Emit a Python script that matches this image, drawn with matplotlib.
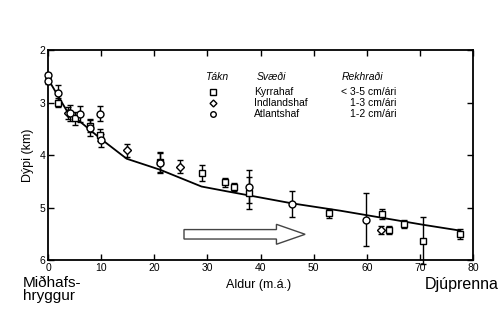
import matplotlib
matplotlib.use("Agg")
import matplotlib.pyplot as plt
from matplotlib.patches import FancyArrow

plt.rcParams['font.family'] = ['Liberation Sans', 'DejaVu Sans']

# Kyrrahaf (squares)
pac_age = [1.9, 5.1, 7.9, 9.8, 21.0, 28.9, 33.3, 35.0, 37.9, 52.9, 62.8, 64.1, 67.0, 70.6, 77.6]
pac_depth = [3.00, 3.30, 3.44, 3.62, 4.13, 4.34, 4.52, 4.61, 4.72, 5.11, 5.12, 5.43, 5.31, 5.63, 5.50]
pac_err = [0.08, 0.12, 0.12, 0.12, 0.19, 0.15, 0.08, 0.07, 0.30, 0.08, 0.10, 0.08, 0.08, 0.45, 0.10]

# Indlandshaf (diamonds)
ind_age = [3.8, 14.8, 24.9, 62.7]
ind_depth = [3.20, 3.91, 4.22, 5.43]
ind_err = [0.12, 0.12, 0.13, 0.08]

# Atlantshaf (circles)
atl_age = [0.0, 0.0, 1.9, 4.2, 6.0, 7.9, 9.8, 10.0, 21.0, 37.9, 45.9, 59.9]
atl_depth = [2.48, 2.59, 2.81, 3.20, 3.22, 3.49, 3.21, 3.72, 4.16, 4.60, 4.93, 5.23]
atl_err = [0.05, 0.05, 0.15, 0.15, 0.15, 0.15, 0.15, 0.12, 0.19, 0.31, 0.25, 0.51]

# model curve
curve_age = [0, 3.5, 9.8, 14.8, 21.1, 28.9, 33.6, 45.9, 55.0, 70.7, 77.6]
curve_depth = [2.55, 3.15, 3.68, 4.07, 4.28, 4.60, 4.69, 4.92, 5.06, 5.33, 5.44]

legend_markers = ['s', 'D', 'o']
legend_regions = ['Kyrrahaf', 'Indlandshaf', 'Atlantshaf']
legend_rates = ['< 3-5 cm/ári', '1-3 cm/ári', '1-2 cm/ári']

fig = plt.figure(figsize=(5, 3.23), dpi=100)
ax = fig.add_axes([0.096, 0.195, 0.85, 0.65])

ax.plot(curve_age, curve_depth, color='black', lw=1.3, zorder=2)

style = dict(ls='none', color='black', mfc='white', mec='black', mew=1.0,
             ecolor='black', elinewidth=1.0, capsize=2.5, capthick=1.0, clip_on=False, zorder=3)
ax.errorbar(pac_age, pac_depth, yerr=pac_err, marker='s', ms=4.5, **style)
ax.errorbar(ind_age, ind_depth, yerr=ind_err, marker='D', ms=4, **style)
ax.errorbar(atl_age, atl_depth, yerr=atl_err, marker='o', ms=5, **style)

ax.add_patch(FancyArrow(25.6, 5.51, 22.8, 0, width=0.18, head_width=0.38, head_length=5.4,
                        length_includes_head=True, fc='white', ec='#444444', lw=1.0))

ax.set_xlim(0, 80)
ax.set_ylim(6, 2)
ax.set_xticks(range(0, 81, 10))
ax.set_yticks([2, 3, 4, 5, 6])
ax.tick_params(direction='in', length=4, width=1, labelsize=7.5, pad=2,
               top=True, right=True)
for s in ax.spines.values():
    s.set_linewidth(1.3)

ax.set_ylabel('Dýpi (km)', fontsize=9, labelpad=4)

# legend block
hy = 0.871
ax.text(0.369, hy, 'Tákn', transform=ax.transAxes, fontsize=7.5, style='italic', va='center')
ax.text(0.492, hy, 'Svæði', transform=ax.transAxes, fontsize=7.5, style='italic', va='center')
ax.text(0.692, hy, 'Rekhraði', transform=ax.transAxes, fontsize=7.5, style='italic', va='center')
rows = [0.80, 0.748, 0.696]
for m, reg, rate, yy in zip(legend_markers, legend_regions, legend_rates, rows):
    ax.plot([0.388], [yy], marker=m, ms=4 if m != 'D' else 3.5, mfc='white', mec='black',
            mew=1.0, transform=ax.transAxes, clip_on=False)
    ax.text(0.485, yy, reg, transform=ax.transAxes, fontsize=7.5, va='center')
    ax.text(0.819, yy, rate, transform=ax.transAxes, fontsize=7.5, va='center', ha='right')

fig.text(0.518, 1 - 288 / 323, 'Aldur (m.á.)', fontsize=9, ha='center', va='baseline')
fig.text(23 / 500, 1 - 276 / 323, 'Miðhafs-\nhryggur', fontsize=11, va='top', linespacing=0.95)
fig.text(425 / 500, 1 - 289 / 323, 'Djúprenna', fontsize=11.5, va='baseline')

fig.savefig('out.png', dpi=100)
